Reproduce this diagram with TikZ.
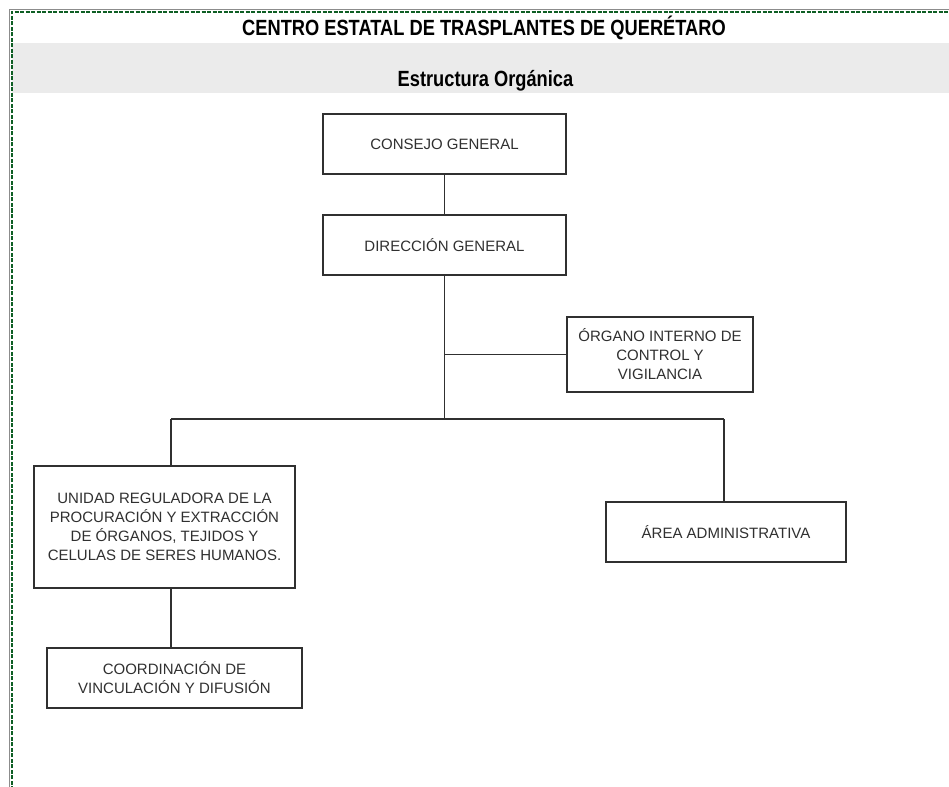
\documentclass[tikz,border=0pt]{standalone}
\usepackage{fontspec}
\setmainfont{Liberation Sans}
\newfontfamily\titlefont[FakeStretch=0.83]{Liberation Sans}
\definecolor{framegreen}{HTML}{0E5E24}
\definecolor{framegray}{HTML}{8C8C8C}
\definecolor{bandgray}{HTML}{EBEBEB}
\definecolor{inkgray}{HTML}{303030}

\tikzset{
  orgbox/.style={draw=inkgray, line width=1.3pt, fill=white, align=center, inner sep=0pt,
    text=inkgray, font=\fontsize{15}{19}\selectfont},
  link/.style={draw=inkgray, line width=1.1pt},
  heading/.style={anchor=base, inner sep=0pt, text=black, font=\titlefont\bfseries\fontsize{22}{24}\selectfont}
}

\begin{document}
\begin{tikzpicture}[x=1pt, y=-1pt]

\useasboundingbox (0,0) rectangle (949,786);
\clip (0,0) rectangle (949,786);
\fill[white] (0,0) rectangle (949,786);

\fill[bandgray] (12,43) rectangle (949,93);
\draw[framegray, line width=0.9pt] (9.8,790) -- (9.8,9.8) -- (955,9.8);
\draw[framegreen, line width=2.2pt, dash pattern=on 4pt off 1.5pt] (11.8,790) -- (11.8,11.8) -- (955,11.8);

\node[heading] (title) at (484,36) {CENTRO ESTATAL DE TRASPLANTES DE QUERÉTARO};
\node[heading] (subtitle) at (485.5,87) {Estructura Orgánica};

\node[orgbox, minimum width=243pt, minimum height=60pt] (consejo) at (444.5,144) {CONSEJO GENERAL};
\node[orgbox, minimum width=243pt, minimum height=60pt] (direccion) at (444.5,245) {DIRECCIÓN GENERAL};
\node[orgbox, minimum width=186pt, minimum height=75pt] (organo) at (660,354.5) {ÓRGANO INTERNO DE\\CONTROL Y\\VIGILANCIA};
\node[orgbox, minimum width=261pt, minimum height=122pt] (unidad) at (164.5,527) {UNIDAD REGULADORA DE LA\\PROCURACIÓN Y EXTRACCIÓN\\DE ÓRGANOS, TEJIDOS Y\\CELULAS DE SERES HUMANOS.};
\node[orgbox, minimum width=240pt, minimum height=60pt] (area) at (726,532) {ÁREA ADMINISTRATIVA};
\node[orgbox, minimum width=255pt, minimum height=60pt] (coordinacion) at (174.5,678) {COORDINACIÓN DE\\VINCULACIÓN Y DIFUSIÓN};

\coordinate (barL) at (171,419);
\coordinate (barR) at (724,419);

\draw[link] (consejo) -- (direccion);
\draw[link] (direccion) -- (direccion.south |- barL);
\draw[link] (direccion.south |- organo.west) -- (organo.west);
\draw[link] (barL) -- (barR);
\draw[link] (barL) -- (barL |- unidad.north);
\draw[link] (barR) -- (barR |- area.north);
\draw[link] (barL |- unidad.south) -- (barL |- coordinacion.north);

\end{tikzpicture}
\end{document}
